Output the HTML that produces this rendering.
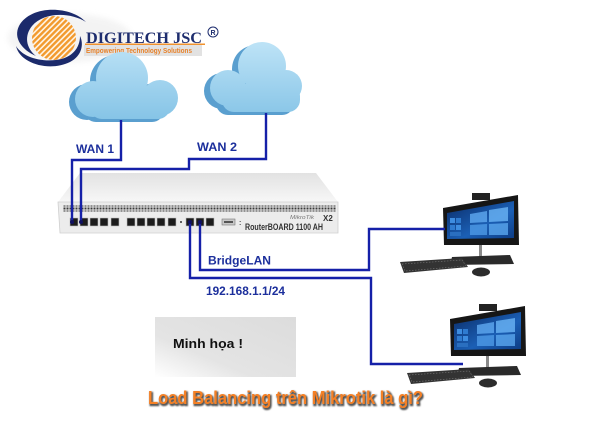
<!DOCTYPE html>
<html><head><meta charset="utf-8"><style>
html,body{margin:0;padding:0;background:#fff;}
svg{display:block;}
</style></head><body>
<svg width="600" height="421" viewBox="0 0 600 421" xmlns="http://www.w3.org/2000/svg">
<defs>
<pattern id="stripes" width="4" height="4" patternUnits="userSpaceOnUse" patternTransform="rotate(45)">
<rect width="4" height="4" fill="#fff6e8"/><rect width="2.4" height="4" fill="#f29a2e"/>
</pattern>
<pattern id="vent" width="3" height="3" patternUnits="userSpaceOnUse">
<rect width="3" height="3" fill="#e9e9e9"/><rect x="0.5" y="0.5" width="2" height="2" fill="#3a3a3a"/>
</pattern>
<linearGradient id="cloudTop" gradientUnits="userSpaceOnUse" x1="0" y1="40" x2="0" y2="122">
<stop offset="0" stop-color="#bfe4f7"/><stop offset="1" stop-color="#84c3e6"/>
</linearGradient>
<linearGradient id="routerTop" x1="0" y1="0" x2="0" y2="1">
<stop offset="0" stop-color="#e2e2e2"/><stop offset="1" stop-color="#f7f7f7"/>
</linearGradient>
<linearGradient id="screen" x1="0" y1="0" x2="1" y2="1">
<stop offset="0" stop-color="#0a2b66"/><stop offset="0.6" stop-color="#1b5fb5"/><stop offset="1" stop-color="#0d3c84"/>
</linearGradient>
<linearGradient id="box" x1="0" y1="1" x2="1" y2="0">
<stop offset="0" stop-color="#ffffff"/><stop offset="0.35" stop-color="#e4e4e4"/><stop offset="1" stop-color="#dcdcdc"/>
</linearGradient>
<filter id="blur1"><feGaussianBlur stdDeviation="0.7"/></filter>
<filter id="blur3"><feGaussianBlur stdDeviation="3"/></filter>
<g id="comp">
<rect x="472" y="193" width="18" height="7" fill="#222"/>
<polygon points="443,208 518,195 519,245 444,245" fill="#161616"/>
<polygon points="447,213 514,201 514,238 447,239" fill="url(#screen)"/>
<polygon points="470,214 487,211 487,222 470,223" fill="#5fa9f0" opacity="0.8"/>
<polygon points="489,210 508,207 508,221 489,222" fill="#6ab4f5" opacity="0.8"/>
<polygon points="470,225 487,224 487,235 470,235" fill="#4e9ae6" opacity="0.8"/>
<polygon points="489,224 508,223 508,235 489,235" fill="#5aa6ee" opacity="0.8"/>
<rect x="450" y="218" width="5" height="5" fill="#3e8de0"/><rect x="456" y="218" width="5" height="5" fill="#2f7bd0"/>
<rect x="450" y="225" width="5" height="5" fill="#2f7bd0"/><rect x="456" y="225" width="5" height="5" fill="#3e8de0"/>
<rect x="450" y="232" width="11" height="4" fill="#2a6fc0"/>
<rect x="479" y="245" width="3" height="12" fill="#8a8a8a"/>
<polygon points="452,257 510,255 514,264 450,265" fill="#2a2a2a"/>
<polygon points="400,262 462,258 468,267 404,273" fill="#333"/>
<polygon points="402,264 462,260 466,266 405,271" fill="none" stroke="#777" stroke-width="0.6" stroke-dasharray="1.5 1.5"/>
<ellipse cx="481" cy="272" rx="9" ry="4.5" fill="#2c2c2c"/>
</g>
</defs>

<!-- Logo -->
<ellipse cx="70" cy="38" rx="62" ry="24" fill="#e8e8e8" filter="url(#blur3)" opacity="0.5"/>
<rect x="84" y="45" width="118" height="11" fill="#e2e2e2"/>
<circle cx="54" cy="38" r="22" fill="url(#stripes)"/>
<path d="M86,22 C70,5 30,5 19,26 C13,38 22,50 36,56 C26,48 24,36 32,26 C44,12 70,12 86,22 Z" fill="#1b2a6b"/>
<path d="M16,46 C20,64 50,72 70,62 C82,56 84,44 80,36 C80,48 72,58 56,60 C38,62 22,56 16,46 Z" fill="#1b2a6b"/>
<text x="86" y="43" font-family="Liberation Serif, serif" font-weight="bold" font-size="16" fill="#1e2d6e" textLength="116" lengthAdjust="spacingAndGlyphs">DIGITECH JSC</text>
<rect x="85" y="43.5" width="120" height="1.5" fill="#f0922e"/>
<circle cx="213" cy="32" r="5" fill="none" stroke="#1e2d6e" stroke-width="1"/>
<text x="213" y="35" font-family="Liberation Sans, sans-serif" font-weight="bold" font-size="7" fill="#1e2d6e" text-anchor="middle">R</text>
<text x="86" y="53" font-family="Liberation Sans, sans-serif" font-weight="bold" font-size="7.5" fill="#e8822a" textLength="106" lengthAdjust="spacingAndGlyphs">Empowering Technology Solutions</text>

<!-- Cloud 1 -->
<g fill="#5a9fcf" transform="translate(-6,3)">
<circle cx="122" cy="78" r="26"/><circle cx="160" cy="98" r="18"/><circle cx="93" cy="99" r="18"/><rect x="90" y="92" width="80" height="27" rx="12"/>
</g>
<g fill="url(#cloudTop)">
<circle cx="122" cy="78" r="26"/><circle cx="160" cy="98" r="18"/><circle cx="93" cy="99" r="18"/><rect x="90" y="92" width="80" height="27" rx="12"/>
</g>
<!-- Cloud 2 -->
<g fill="#5a9fcf" transform="translate(-6,3)">
<circle cx="262" cy="66" r="24"/><circle cx="228" cy="88" r="18"/><circle cx="286" cy="86" r="16"/><rect x="222" y="84" width="78" height="28" rx="12"/>
</g>
<g fill="url(#cloudTop)">
<circle cx="262" cy="66" r="24"/><circle cx="228" cy="88" r="18"/><circle cx="286" cy="86" r="16"/><rect x="222" y="84" width="78" height="28" rx="12"/>
</g>

<!-- Router -->
<polygon points="80,173 316,173 338,202 58,202" fill="url(#routerTop)"/>
<polygon points="58,202 338,202 338,233 60,233" fill="#ececec" stroke="#cfcfcf" stroke-width="0.8"/>
<rect x="63" y="205.5" width="273" height="6" fill="url(#vent)"/>
<g fill="#1c1c1c" stroke="#bbb" stroke-width="0.6">
<rect x="70" y="218" width="8" height="8"/><rect x="80" y="218" width="8" height="8"/><rect x="90" y="218" width="8" height="8"/><rect x="100" y="218" width="8" height="8"/><rect x="111" y="218" width="8" height="8"/>
<rect x="127" y="218" width="8" height="8"/><rect x="137" y="218" width="8" height="8"/><rect x="147" y="218" width="8" height="8"/><rect x="157" y="218" width="8" height="8"/><rect x="168" y="218" width="8" height="8"/>
<rect x="186" y="218" width="8" height="8"/><rect x="196" y="218" width="8" height="8"/><rect x="206" y="218" width="8" height="8"/>
</g>
<circle cx="181" cy="222" r="1" fill="#333"/>
<rect x="222" y="219" width="13" height="6" fill="#c8c8c8" stroke="#777" stroke-width="0.6"/>
<rect x="224" y="221" width="9" height="2" fill="#555"/>
<text x="239" y="225" font-family="Liberation Sans, sans-serif" font-weight="bold" font-size="7" fill="#444">:</text>
<text x="290" y="219" font-family="Liberation Sans, sans-serif" font-style="italic" font-size="5" fill="#777" textLength="24" lengthAdjust="spacingAndGlyphs">MikroTik</text>
<text x="323" y="221" font-family="Liberation Sans, sans-serif" font-weight="bold" font-size="8" fill="#333">X2</text>
<text x="245" y="230" font-family="Liberation Sans, sans-serif" font-weight="bold" font-size="9.5" fill="#333" textLength="78" lengthAdjust="spacingAndGlyphs">RouterBOARD 1100 AH</text>

<!-- Computers -->
<use href="#comp"/>
<use href="#comp" transform="translate(7,111)"/>

<!-- Connectors -->
<g fill="none" stroke="#1520a8" stroke-width="2.4">
<path d="M121,120 V160 H72 V222"/>
<path d="M266,113 V159 H189 V169 H81 V222"/>
<path d="M200,222 V270 H369 V229 H445"/>
<path d="M190,222 V278 H371 V364 H463"/>
</g>
<g fill="#101060">
<circle cx="72" cy="222" r="2"/><circle cx="81" cy="222" r="2"/><circle cx="190" cy="222" r="2"/><circle cx="200" cy="222" r="2"/>
</g>

<!-- Labels -->
<g font-family="Liberation Sans, sans-serif" font-weight="bold" fill="#1c2f9c">
<text x="76" y="153" font-size="12" textLength="38" lengthAdjust="spacingAndGlyphs">WAN 1</text>
<text x="197" y="151" font-size="12" textLength="40" lengthAdjust="spacingAndGlyphs">WAN 2</text>
<text x="208" y="264.5" font-size="12" textLength="63" lengthAdjust="spacingAndGlyphs">BridgeLAN</text>
<text x="206" y="295" font-size="11.5" textLength="79" lengthAdjust="spacingAndGlyphs">192.168.1.1/24</text>
</g>

<!-- Gray box -->
<rect x="155" y="317" width="141" height="60" fill="url(#box)"/>
<text x="173" y="348" font-family="Liberation Sans, sans-serif" font-weight="bold" font-size="13" fill="#111" textLength="70" lengthAdjust="spacingAndGlyphs">Minh họa !</text>

<!-- Title -->
<text x="149" y="405.5" font-family="Liberation Sans, sans-serif" font-weight="bold" font-size="18" fill="#555" stroke="#555" stroke-width="1.3" textLength="275" lengthAdjust="spacingAndGlyphs" filter="url(#blur1)">Load Balancing trên Mikrotik là gì?</text>
<text x="148" y="404" font-family="Liberation Sans, sans-serif" font-weight="bold" font-size="18" fill="#f58025" textLength="275" lengthAdjust="spacingAndGlyphs">Load Balancing trên Mikrotik là gì?</text>
</svg>
</body></html>
